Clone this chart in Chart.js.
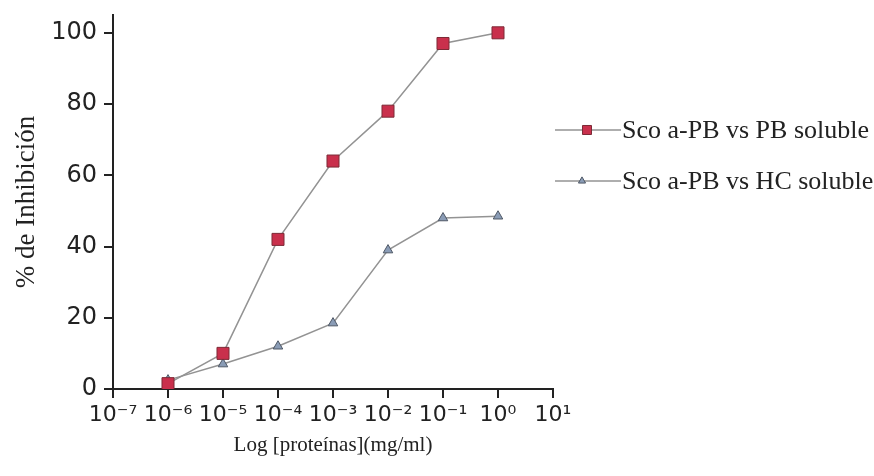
<!DOCTYPE html>
<html>
<head>
<meta charset="utf-8">
<script src="https://cdn.jsdelivr.net/npm/chart.js@4/dist/chart.umd.min.js"></script>
<style>
  html, body { margin: 0; padding: 0; background: #ffffff; }
  #wrap { width: 874px; height: 476px; position: relative; }
</style>
</head>
<body>
<div id="wrap"><canvas id="c" width="874" height="476"></canvas></div>
<script>
// Protein concentrations (mg/ml) and % inhibition for each competitor
const concentrations = [1e-6, 1e-5, 1e-4, 1e-3, 1e-2, 1e-1, 1];
const pbSoluble = [1.5, 10, 42, 64, 78, 97, 100];
const hcSoluble = [2.5, 7, 12, 18.5, 39, 48, 48.5];
const seriesNames = ['Sco a-PB vs PB soluble', 'Sco a-PB vs HC soluble'];

// Axis ticks
const xTickValues = [1e-7, 1e-6, 1e-5, 1e-4, 1e-3, 1e-2, 1e-1, 1, 10];
const xTickLabels = ['10\u207B\u2077', '10\u207B\u2076', '10\u207B\u2075', '10\u207B\u2074',
                     '10\u207B\u00B3', '10\u207B\u00B2', '10\u207B\u00B9', '10\u2070', '10\u00B9'];
const yTickValues = [0, 20, 40, 60, 80, 100];

const ink = '#222222';
const serif = "'Liberation Serif', 'Times New Roman', serif";
const sans = "'DejaVu Sans', Arial, sans-serif";

// Legend at the right: short line with a smaller marker on it, then the label
const sideLegend = {
  id: 'sideLegend',
  afterDraw(chart) {
    const ctx = chart.ctx;
    const rows = [130, 181];
    const markerX = [587, 582];
    chart.data.datasets.forEach((ds, i) => {
      const y = rows[i];
      ctx.save();
      ctx.strokeStyle = ds.borderColor;
      ctx.lineWidth = ds.borderWidth;
      ctx.beginPath();
      ctx.moveTo(555, y);
      ctx.lineTo(621, y);
      ctx.stroke();
      ctx.fillStyle = ds.pointBackgroundColor;
      ctx.strokeStyle = ds.pointBorderColor;
      ctx.lineWidth = ds.pointBorderWidth;
      Chart.helpers.drawPoint(ctx, {
        pointStyle: ds.pointStyle,
        radius: ds.pointRadius * 0.75,
        rotation: 0,
        borderWidth: ds.pointBorderWidth
      }, markerX[i], y);
      ctx.fillStyle = ink;
      ctx.font = "26px " + serif;
      ctx.textBaseline = 'middle';
      ctx.textAlign = 'left';
      ctx.fillText(ds.label, 622, y + 1);
      ctx.restore();
    });
  }
};

new Chart(document.getElementById('c'), {
  type: 'line',
  data: {
    datasets: [
      {
        label: seriesNames[0],
        data: concentrations.map((x, i) => ({ x: x, y: pbSoluble[i] })),
        borderColor: '#939393',
        borderWidth: 1.5,
        pointStyle: 'rect',
        pointRadius: 8.5,
        pointBackgroundColor: '#c9304c',
        pointBorderColor: '#7d2a36',
        pointBorderWidth: 1,
        tension: 0
      },
      {
        label: seriesNames[1],
        data: concentrations.map((x, i) => ({ x: x, y: hcSoluble[i] })),
        borderColor: '#939393',
        borderWidth: 1.5,
        pointStyle: 'triangle',
        pointRadius: 5.5,
        pointBackgroundColor: '#8a9cb6',
        pointBorderColor: '#4f5866',
        pointBorderWidth: 1,
        tension: 0
      }
    ]
  },
  options: {
    responsive: false,
    animation: false,
    layout: { padding: { top: 15, right: 321, left: 0, bottom: 0 } },
    plugins: { legend: { display: false }, tooltip: { enabled: false } },
    scales: {
      x: {
        type: 'logarithmic',
        min: 1e-7,
        max: 10,
        afterBuildTicks: s => { s.ticks = xTickValues.map(v => ({ value: v })); },
        afterFit: s => { s.height = 87; s.paddingLeft = 0; s.paddingRight = 0; },
        border: { display: true, color: ink, width: 2 },
        grid: { display: true, drawOnChartArea: false, drawTicks: true, tickLength: 9, color: ink, lineWidth: 2 },
        ticks: {
          autoSkip: false,
          maxRotation: 0,
          padding: 4,
          color: ink,
          font: { family: sans, size: 22 },
          callback: (v, i) => xTickLabels[i]
        },
        title: {
          display: true,
          text: 'Log [proteínas](mg/ml)',
          color: ink,
          font: { family: serif, size: 21 },
          padding: { top: 0, bottom: 18 }
        }
      },
      y: {
        min: 0,
        max: 105,
        afterBuildTicks: s => { s.ticks = yTickValues.map(v => ({ value: v })); },
        afterFit: s => { s.width = 113; s.paddingTop = 0; s.paddingBottom = 0; },
        border: { display: true, color: ink, width: 2 },
        grid: { display: true, drawOnChartArea: false, drawTicks: true, tickLength: 9, color: ink, lineWidth: 2 },
        ticks: {
          padding: 7,
          color: ink,
          font: { family: sans, size: 24 }
        },
        title: {
          display: true,
          text: '% de Inhibición',
          color: ink,
          font: { family: serif, size: 27 },
          padding: { top: 11, bottom: 0 }
        }
      }
    }
  },
  plugins: [sideLegend]
});
</script>
</body>
</html>
